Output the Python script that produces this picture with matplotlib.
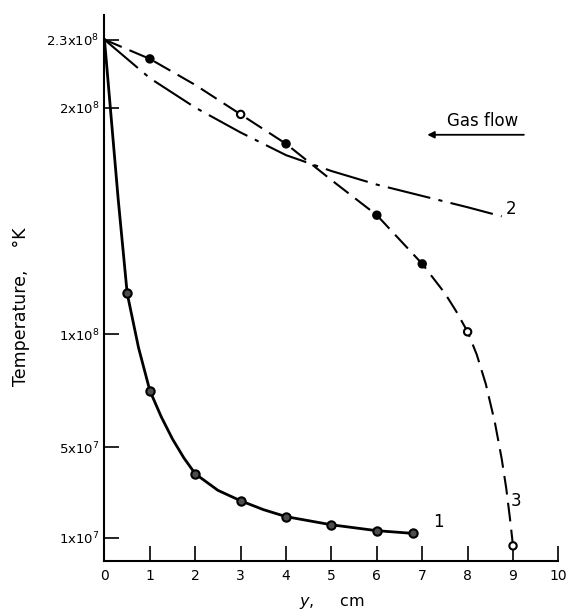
import numpy as np
import matplotlib.pyplot as plt

plt.rcParams['font.family'] = ['DejaVu Sans']

# curve 1 (solid, with markers)
c1_line_x = [0, 0.15, 0.3, 0.5, 0.75, 1.0, 1.25, 1.5, 1.75, 2.0, 2.5, 3.0, 3.5, 4.0, 5.0, 6.0, 6.8]
c1_line_t = [2.30e8, 1.95e8, 1.60e8, 1.18e8, 0.94e8, 0.75e8, 0.635e8, 0.536e8, 0.453e8,
             0.383e8, 0.31e8, 0.264e8, 0.225e8, 0.194e8, 0.158e8, 0.132e8, 0.12e8]
c1_pts_x = [0.5, 1, 2, 3, 4, 5, 6, 6.8]
c1_pts_t = [1.18e8, 0.75e8, 0.383e8, 0.264e8, 0.194e8, 0.158e8, 0.132e8, 0.12e8]

# curve 2 (dash-dot, no markers)
c2_x = [0, 1, 2, 3, 4, 5, 6, 7, 8, 8.75]
c2_t = [2.30e8, 2.13e8, 2.00e8, 1.89e8, 1.79e8, 1.72e8, 1.66e8, 1.61e8, 1.56e8, 1.52e8]

# curve 3 (long dashes, with markers)
c3_line_x = [0, 1, 2, 3, 4, 5, 6, 7, 7.5, 7.75, 8.0, 8.2, 8.4, 8.6, 8.75, 8.85, 8.93, 9.0]
c3_line_t = [2.30e8, 2.215e8, 2.10e8, 1.97e8, 1.84e8, 1.68e8, 1.525e8, 1.31e8, 1.18e8,
             1.10e8, 1.01e8, 0.91e8, 0.78e8, 0.61e8, 0.45e8, 0.32e8, 0.19e8, 0.065e8]
c3_pts_x = [1, 3, 4, 6, 7, 8, 9]
c3_pts_t = [2.215e8, 1.97e8, 1.84e8, 1.525e8, 1.31e8, 1.01e8, 0.065e8]
c3_face = ['black', 'white', 'black', 'black', 'black', 'white', 'white']

yticks = [1e7, 5e7, 1e8, 2e8, 2.3e8]
ytick_labels = [r'1x10$^7$', r'5x10$^7$', r'1x10$^8$', r'2x10$^8$', r'2.3x10$^8$']
xticks = [0, 1, 2, 3, 4, 5, 6, 7, 8, 9, 10]

fig = plt.figure(figsize=(5.66, 6.14), dpi=100)
ax = fig.add_axes([0.1846, 0.087, 0.802, 0.889])

ax.plot(c1_line_x, c1_line_t, color='black', lw=2)
ax.plot(c1_pts_x, c1_pts_t, 'o', ms=6, mfc='0.3', mec='black', mew=1.5)

ax.plot(c2_x, c2_t, color='black', lw=1.5, dashes=[21, 4, 2, 4])

ax.plot(c3_line_x, c3_line_t, color='black', lw=1.5, dashes=[9, 4])
ax.scatter(c3_pts_x, c3_pts_t, s=28, c=c3_face, edgecolors='black', linewidths=1.5, zorder=3)

ax.set_xlim(0, 10)
ax.set_ylim(0, 2.41e8)
ax.set_xticks(xticks)
ax.set_xticklabels([str(v) for v in xticks])
ax.set_yticks(yticks)
ax.set_yticklabels(ytick_labels)
ax.tick_params(direction='in', length=11, width=1.2, labelsize=9.5)
ax.tick_params(axis='x', pad=6, labelsize=10)

for s in ['top', 'right']:
    ax.spines[s].set_visible(False)
for s in ['left', 'bottom']:
    ax.spines[s].set_linewidth(1.5)

ax.set_ylabel('Temperature,    °K', fontsize=12.5)
ax.yaxis.set_label_coords(-0.165, 0.465)
ax.set_xlabel(r'$\it{y}$,     cm', fontsize=11.5, labelpad=9)

ax.text(7.25, 0.15e8, '1', fontsize=12)
ax.text(8.84, 1.53e8, '2', fontsize=12)
ax.text(8.95, 0.24e8, '3', fontsize=12)

ax.text(8.33, 1.90e8, 'Gas flow', fontsize=12, ha='center', va='bottom')
ax.annotate('', xy=(7.05, 1.88e8), xytext=(9.3, 1.88e8),
            arrowprops=dict(arrowstyle='-|>', color='black', lw=1.3, mutation_scale=10))

plt.savefig('out.png')
